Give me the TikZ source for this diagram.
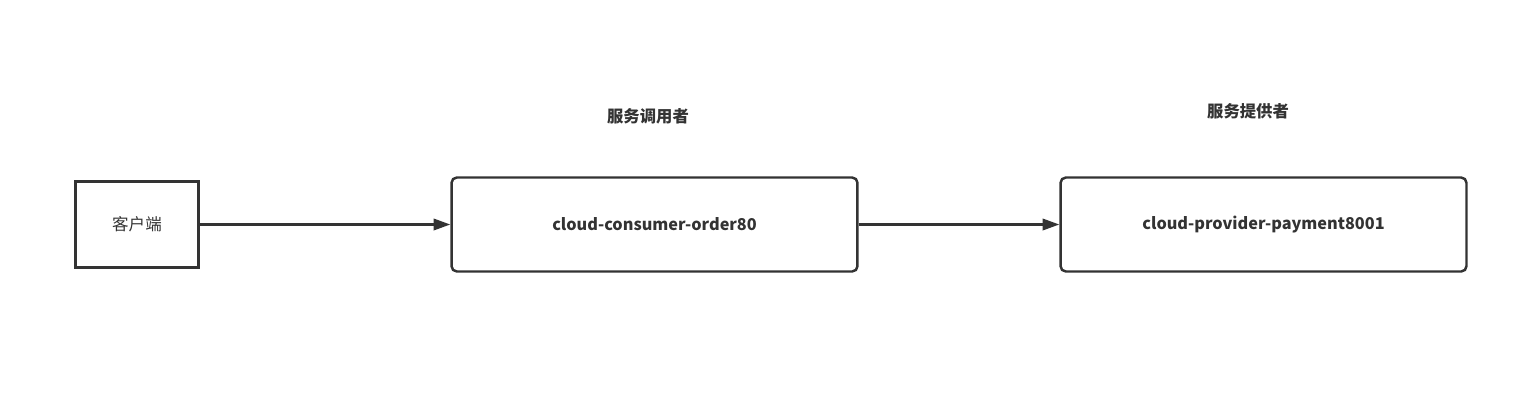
\documentclass[tikz,border=0pt]{standalone}
\usepackage{fontspec}
\setmainfont{Noto Sans CJK SC}
\usetikzlibrary{arrows.meta}
\definecolor{linegray}{HTML}{333333}
\tikzset{
  clientbox/.style={draw=linegray, line width=1.4pt, minimum width=2.46cm, minimum height=1.72cm, font=\fontsize{9.4}{11}\selectfont, text=linegray},
  servicebox/.style={draw=linegray, line width=1.4pt, rounded corners=3pt, minimum width=8.12cm, minimum height=1.88cm, font=\fontsize{9.25}{11}\selectfont\bfseries, text=linegray},
  rolelabel/.style={font=\fontsize{9.3}{11}\selectfont\bfseries, text=linegray},
  callarrow/.style={draw=linegray, line width=1.3pt, -{Triangle[length=9.5pt,width=6.5pt]}}
}
\begin{document}
\begin{tikzpicture}[x=0.02cm, y=-0.02cm]
            \useasboundingbox (0,0) rectangle (1517,403);
            \node[clientbox] (client) at (137,224.5) {客户端};   %client
            \node[servicebox] (consumer) at (654.5,224.5) {cloud-consumer-order80};
            \node[servicebox] (provider) at (1263.5,224.5) {cloud-provider-payment8001};
            \node[rolelabel] (consumerlabel) at (648,116) {服务调用者};
            \node[rolelabel] (providerlabel) at (1248,111) {服务提供者};
            \draw[callarrow] (client) -- (consumer);
            \draw[callarrow] (consumer) -- (provider);
        \end{tikzpicture}
\end{document}
